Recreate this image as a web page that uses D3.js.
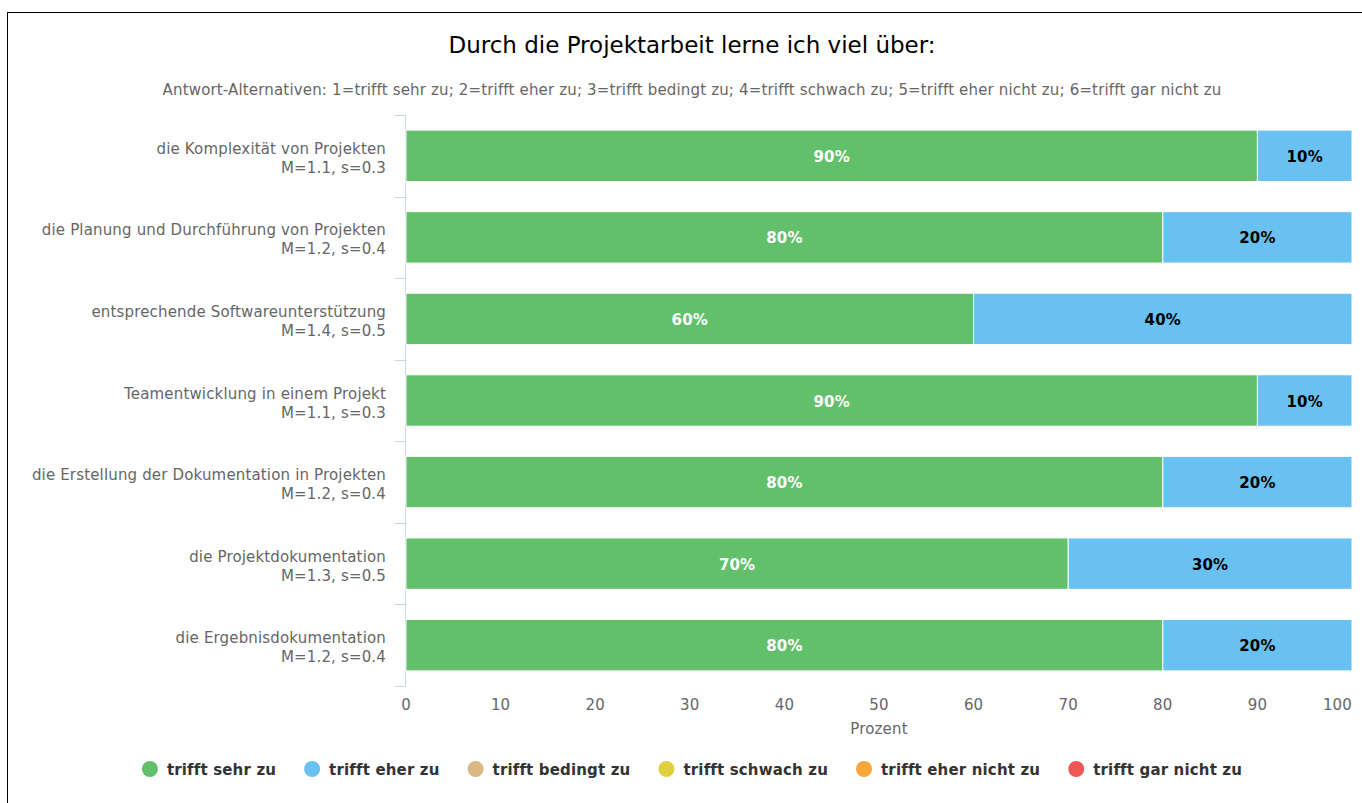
<!DOCTYPE html>
<html>
<head>
<meta charset="utf-8">
<script src="https://cdn.jsdelivr.net/npm/d3@7"></script>
<style>
  body { margin: 0; background: #fff; font-family: 'DejaVu Sans', sans-serif; }
  svg text { font-family: 'DejaVu Sans', sans-serif; }
  svg text.sp { letter-spacing: 0.16px; }
</style>
</head>
<body>
<div id="main"></div>
<script>
// Chart data
const categories = [
  'die Komplexität von Projekten',
  'die Planung und Durchführung von Projekten',
  'entsprechende Softwareunterstützung',
  'Teamentwicklung in einem Projekt',
  'die Erstellung der Dokumentation in Projekten',
  'die Projektdokumentation',
  'die Ergebnisdokumentation'
];
const means = [1.1, 1.2, 1.4, 1.1, 1.2, 1.3, 1.2];
const sds = [0.3, 0.4, 0.5, 0.3, 0.4, 0.5, 0.4];

const seriesNames = ['trifft sehr zu', 'trifft eher zu', 'trifft bedingt zu', 'trifft schwach zu', 'trifft eher nicht zu', 'trifft gar nicht zu'];
const seriesColors = ['#62bf6a', '#68c1f0', '#d9b886', '#e0cf3e', '#fba63c', '#ef5757'];
const labelColors = ['#fff', '#000', '#000', '#000', '#000', '#000'];

const sehrZu = [90, 80, 60, 90, 80, 70, 80];
const eherZu = [10, 20, 40, 10, 20, 30, 20];
const bedingtZu = [0, 0, 0, 0, 0, 0, 0];
const schwachZu = [0, 0, 0, 0, 0, 0, 0];
const eherNichtZu = [0, 0, 0, 0, 0, 0, 0];
const garNichtZu = [0, 0, 0, 0, 0, 0, 0];
const seriesValues = [sehrZu, eherZu, bedingtZu, schwachZu, eherNichtZu, garNichtZu];

const xTicks = [0, 10, 20, 30, 40, 50, 60, 70, 80, 90, 100];

const W = 1362, H = 803;
const margin = { left: 406, right: 10, top: 115, bottom: 117 };

const svg = d3.select('div#main')
  .append('svg')
  .attr('width', W)
  .attr('height', H);

// outer border
svg.append('rect')
  .attr('x', 7.5).attr('y', 12.5)
  .attr('width', W).attr('height', H)
  .attr('fill', 'none')
  .attr('stroke', '#000')
  .attr('stroke-width', 1);

// Title & subtitle
svg.append('text')
  .attr('x', 692).attr('y', 53)
  .attr('text-anchor', 'middle')
  .attr('font-size', 23)
  .attr('fill', '#000')
  .text('Durch die Projektarbeit lerne ich viel über:');

svg.append('text')
  .attr('class', 'sp')
  .attr('x', 692).attr('y', 95)
  .attr('text-anchor', 'middle')
  .attr('font-size', 15)
  .attr('fill', '#666')
  .text('Antwort-Alternativen: 1=trifft sehr zu; 2=trifft eher zu; 3=trifft bedingt zu; 4=trifft schwach zu; 5=trifft eher nicht zu; 6=trifft gar nicht zu');

const x = d3.scaleLinear().domain([0, 100]).range([margin.left, W - margin.right]);
const y = d3.scaleBand().domain(d3.range(categories.length))
  .range([margin.top, H - margin.bottom])
  .paddingInner(0.37).paddingOuter(0.185);

// y axis line & ticks at band boundaries
const y0 = margin.top;
const yEnd = H - margin.bottom;
svg.append('line')
  .attr('x1', margin.left - 0.5).attr('x2', margin.left - 0.5)
  .attr('y1', y0).attr('y2', yEnd)
  .attr('stroke', '#ccd6eb');
svg.selectAll('.ytick')
  .data(d3.range(categories.length + 1))
  .join('line')
  .attr('class', 'ytick')
  .attr('x1', margin.left - 11).attr('x2', margin.left)
  .attr('y1', d => Math.round(y0 + d * (yEnd - y0) / categories.length) + 0.5)
  .attr('y2', d => Math.round(y0 + d * (yEnd - y0) / categories.length) + 0.5)
  .attr('stroke', '#ccd6eb');

// category labels
const catLabels = svg.selectAll('.cat')
  .data(categories)
  .join('text')
  .attr('class', 'cat sp')
  .attr('text-anchor', 'end')
  .attr('font-size', 15)
  .attr('fill', '#666')
  .attr('transform', (d, i) => `translate(386, ${y(i) + y.bandwidth() / 2})`);
catLabels.append('tspan').attr('x', 0).attr('y', -2).text(d => d);
catLabels.append('tspan').attr('x', 0).attr('y', 17).text((d, i) => `M=${means[i]}, s=${sds[i]}`);

// stacked bars
const stacked = categories.map((c, i) => {
  let acc = 0;
  return seriesValues.map((vals, s) => {
    const seg = { cat: i, s: s, x0: acc, x1: acc + vals[i], v: vals[i] };
    acc += vals[i];
    return seg;
  });
}).flat().filter(d => d.v > 0);

svg.selectAll('.bar')
  .data(stacked)
  .join('rect')
  .attr('class', 'bar')
  .attr('x', d => x(d.x0))
  .attr('y', d => y(d.cat))
  .attr('width', d => x(d.x1) - x(d.x0))
  .attr('height', y.bandwidth())
  .attr('fill', d => seriesColors[d.s])
  .attr('stroke', '#fff')
  .attr('stroke-width', 1);

svg.selectAll('.blabel')
  .data(stacked)
  .join('text')
  .attr('class', 'blabel sp')
  .attr('x', d => (x(d.x0) + x(d.x1)) / 2)
  .attr('y', d => y(d.cat) + y.bandwidth() / 2 + 6)
  .attr('text-anchor', 'middle')
  .attr('font-size', 15)
  .attr('font-weight', 'bold')
  .attr('fill', d => labelColors[d.s])
  .text(d => d.v + '%');

// x axis labels (last one kept inside the plot)
svg.selectAll('.xtick')
  .data(xTicks)
  .join('text')
  .attr('class', 'xtick sp')
  .attr('x', d => x(d))
  .attr('y', 710)
  .attr('text-anchor', 'middle')
  .attr('font-size', 15)
  .attr('fill', '#666')
  .text(d => d)
  .each(function (d) {
    const bb = this.getBBox();
    const over = bb.x + bb.width - (W - margin.right);
    if (over > 0) d3.select(this).attr('x', x(d) - over);
  });

svg.append('text')
  .attr('class', 'sp')
  .attr('x', (x(0) + x(100)) / 2)
  .attr('y', 734)
  .attr('text-anchor', 'middle')
  .attr('font-size', 15)
  .attr('fill', '#666')
  .text('Prozent');

// legend
const legend = svg.append('g');
let lx = 0;
seriesNames.forEach((name, i) => {
  const g = legend.append('g').attr('transform', `translate(${lx},0)`);
  g.append('circle').attr('cx', 8).attr('cy', 0).attr('r', 8).attr('fill', seriesColors[i]);
  const t = g.append('text')
    .attr('class', 'sp')
    .attr('x', 25).attr('y', 5.5)
    .attr('font-size', 15)
    .attr('font-weight', 'bold')
    .attr('fill', '#333')
    .text(name);
  lx += 25 + t.node().getComputedTextLength() + 28;
});
const legendWidth = lx - 28;
legend.attr('transform', `translate(${692 - legendWidth / 2}, 769)`);
</script>
</body>
</html>
